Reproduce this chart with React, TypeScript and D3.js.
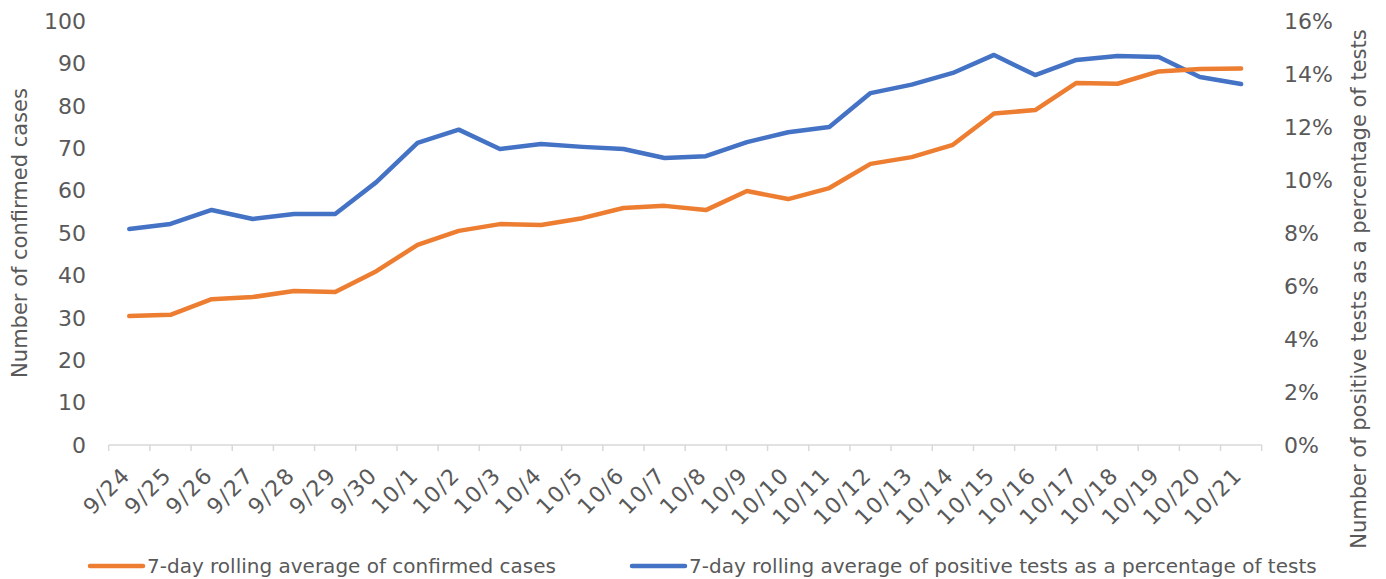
import React, { useEffect, useRef } from "react";
import * as d3 from "d3";

// tick labels along the bottom
const dates = [
  "9/24", "9/25", "9/26", "9/27", "9/28", "9/29", "9/30",
  "10/1", "10/2", "10/3", "10/4", "10/5", "10/6", "10/7", "10/8", "10/9",
  "10/10", "10/11", "10/12", "10/13", "10/14", "10/15", "10/16", "10/17",
  "10/18", "10/19", "10/20", "10/21",
];

// 7-day rolling average of confirmed cases (left axis)
const cases = [
  30.4, 30.7, 34.4, 34.9, 36.3, 36.1, 41.0, 47.2, 50.5, 52.1, 51.9, 53.5,
  55.9, 56.4, 55.4, 59.9, 58.0, 60.6, 66.3, 67.9, 70.8, 78.2, 79.0, 85.4,
  85.2, 88.1, 88.7, 88.8,
];

// 7-day rolling average of positive tests, % of tests (right axis)
const positivity = [
  8.15, 8.34, 8.87, 8.53, 8.72, 8.72, 9.92, 11.4, 11.9, 11.17, 11.36, 11.25,
  11.17, 10.83, 10.9, 11.43, 11.8, 12.0, 13.28, 13.6, 14.04, 14.72, 13.96,
  14.53, 14.68, 14.64, 13.89, 13.62,
];

const leftTicks = [0, 10, 20, 30, 40, 50, 60, 70, 80, 90, 100];
const rightTicks = [0, 2, 4, 6, 8, 10, 12, 14, 16];

const orange = "#ED7D31";
const blue = "#4472C4";
const textColor = "#595959";
const font = "'Century Gothic', 'URW Gothic', 'DejaVu Sans', sans-serif";

function App() {
  const ref = useRef<SVGSVGElement>(null);

  useEffect(() => {
    const width = 1386;
    const height = 579;
    const svg = d3.select(ref.current);
    svg.selectAll("*").remove();

    const x = d3.scaleBand().domain(dates).range([108.7, 1261.7]);
    const yLeft = d3.scaleLinear().domain([0, 100]).range([445, 21]);
    const yRight = d3.scaleLinear().domain([0, 16]).range([445, 21]);
    const cx = (d: string) => (x(d) as number) + x.bandwidth() / 2;

    // x axis line + tick marks at band edges
    const axisG = svg.append("g");
    axisG
      .append("line")
      .attr("x1", x.range()[0])
      .attr("x2", x.range()[1])
      .attr("y1", yLeft(0))
      .attr("y2", yLeft(0))
      .attr("stroke", "#d9d9d9")
      .attr("stroke-width", 1.5);
    const edges = dates.map((d) => x(d) as number).concat([x.range()[1]]);
    axisG
      .selectAll(".tk")
      .data(edges)
      .join("line")
      .attr("x1", (d) => d)
      .attr("x2", (d) => d)
      .attr("y1", yLeft(0))
      .attr("y2", yLeft(0) + 6)
      .attr("stroke", "#d9d9d9")
      .attr("stroke-width", 1.5);

    // x labels, rotated
    axisG
      .selectAll(".xl")
      .data(dates)
      .join("text")
      .attr("transform", (d) => `translate(${cx(d) - 3},${yLeft(0) + 26}) rotate(-45)`)
      .attr("text-anchor", "end")
      .attr("dy", "0.35em")
      .attr("font-size", 22)
      .attr("letter-spacing", 1.5)
      .attr("font-family", font)
      .attr("fill", textColor)
      .text((d) => d);

    // left tick labels
    svg
      .append("g")
      .selectAll("text")
      .data(leftTicks)
      .join("text")
      .attr("x", 86)
      .attr("y", (d) => yLeft(d))
      .attr("dy", "0.35em")
      .attr("text-anchor", "end")
      .attr("font-size", 22)
      .attr("font-family", font)
      .attr("fill", textColor)
      .text((d) => d);

    // right tick labels
    svg
      .append("g")
      .selectAll("text")
      .data(rightTicks)
      .join("text")
      .attr("x", 1284)
      .attr("y", (d) => yRight(d))
      .attr("dy", "0.35em")
      .attr("text-anchor", "start")
      .attr("font-size", 22)
      .attr("font-family", font)
      .attr("fill", textColor)
      .text((d) => d + "%");

    // axis titles
    svg
      .append("text")
      .attr("transform", `translate(27,233) rotate(-90)`)
      .attr("text-anchor", "middle")
      .attr("font-size", 21)
      .attr("font-family", font)
      .attr("fill", textColor)
      .text("Number of confirmed cases");
    svg
      .append("text")
      .attr("transform", `translate(1366,289) rotate(-90)`)
      .attr("text-anchor", "middle")
      .attr("font-size", 21)
      .attr("font-family", font)
      .attr("fill", textColor)
      .text("Number of positive tests as a percentage of tests");

    // lines
    const caseLine = d3
      .line<number>()
      .x((v, i) => cx(dates[i]))
      .y((v) => yLeft(v));
    const posLine = d3
      .line<number>()
      .x((v, i) => cx(dates[i]))
      .y((v) => yRight(v));

    svg
      .append("path")
      .datum(positivity)
      .attr("d", posLine)
      .attr("fill", "none")
      .attr("stroke", blue)
      .attr("stroke-width", 4.5)
      .attr("stroke-linecap", "round")
      .attr("stroke-linejoin", "round");
    svg
      .append("path")
      .datum(cases)
      .attr("d", caseLine)
      .attr("fill", "none")
      .attr("stroke", orange)
      .attr("stroke-width", 4.5)
      .attr("stroke-linecap", "round")
      .attr("stroke-linejoin", "round");

    // legend
    const legend = [
      { label: "7-day rolling average of confirmed cases", color: orange, x: 90 },
      { label: "7-day rolling average of positive tests as a percentage of tests", color: blue, x: 632 },
    ];
    const lg = svg
      .append("g")
      .selectAll("g")
      .data(legend)
      .join("g")
      .attr("transform", (d) => `translate(${d.x},566)`);
    lg.append("line")
      .attr("x1", 0)
      .attr("x2", 53)
      .attr("stroke", (d) => d.color)
      .attr("stroke-width", 4.5)
      .attr("stroke-linecap", "round");
    lg.append("text")
      .attr("x", 57)
      .attr("dy", "0.35em")
      .attr("font-size", 20)
      .attr("font-family", font)
      .attr("fill", textColor)
      .text((d) => d.label);

    svg.attr("width", width).attr("height", height);
  }, []);

  return (
    <svg
      ref={ref}
      width={1386}
      height={579}
      style={{ position: "absolute", left: 0, top: 0, background: "#fff" }}
    />
  );
}

export default App;
